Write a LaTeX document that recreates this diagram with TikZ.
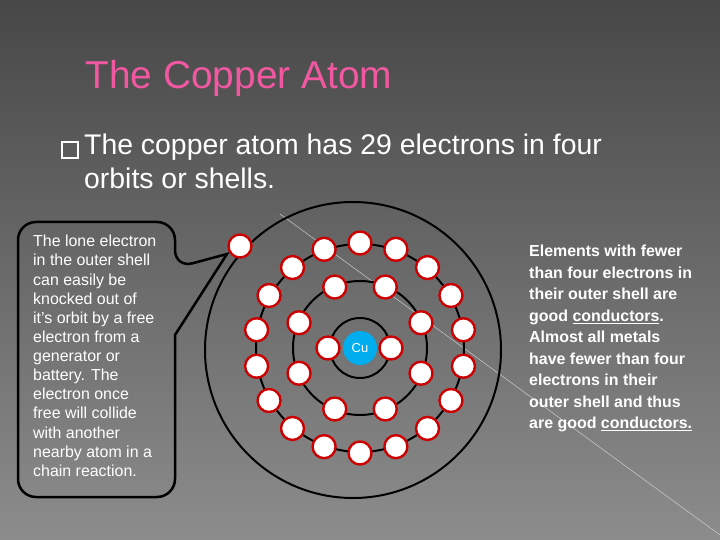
\documentclass[tikz,border=0pt]{standalone}
\usepackage{fontspec}
\setmainfont{Liberation Sans}
\usetikzlibrary{calc}
\begin{document}
\begin{tikzpicture}[x=1bp,y=-1bp,
  elec/.style={circle,draw=red!80!black,fill=white,line width=2.4bp,minimum size=23bp,inner sep=0pt},
  orbit/.style={draw=black,line width=2bp},
  txt/.style={text=white,align=left,inner sep=0pt,anchor=north west}]
\path[use as bounding box] (0,0) rectangle (720,540);
\shade[top color=black!72,bottom color=black!45] (0,0) rectangle (720,540);
\draw[white!60!gray,line width=0.5bp] (280,214) -- (720,535);
\node[anchor=west,text=magenta!55!pink,font=\fontsize{39}{44}\selectfont] (title) at (82,78) {The Copper Atom};
\draw[white,line width=1.2bp] (62,142) rectangle (78,158);
\node[txt,font=\fontsize{28.5}{34}\selectfont] (bullet) at (84,134) {The copper atom has 29 electrons in four\\orbits or shells.};
% callout
\draw[black,line width=2.5bp,rounded corners=18bp] (18,222) -- (175,222) -- (175,268) [sharp corners] -- (227,254) -- (175,335) [rounded corners=18bp] -- (175,497) -- (18,497) -- cycle;
\node[txt,font=\fontsize{16}{19.2}\selectfont] (callout) at (33,235) {The lone electron\\in the outer shell\\can easily be\\knocked out of\\it's orbit by a free\\electron from a\\generator or\\battery. The\\electron once\\free will collide\\with another\\nearby atom in a\\chain reaction.};
% atom
\coordinate (c) at (360,348);
\draw[orbit] (353,350) circle[radius=148];
\draw[orbit] (c) circle[radius=104];
\draw[orbit] (c) circle[radius=67];
\draw[orbit] (c) circle[radius=30];
\node[circle,fill=cyan,minimum size=34bp,inner sep=0pt,text=white,font=\fontsize{13}{13}\selectfont] (cu) at (c) {Cu};
\node[elec] (e1a) at (328,348) {};
\node[elec] (e1b) at (391,348) {};
\foreach \a [count=\i] in {22.5,67.5,...,337.5}{\node[elec] (e2\i) at ($(c)+(\a:66)$) {};}
\foreach \a [count=\i] in {90,110,...,430}{\node[elec] (e3\i) at ($(c)+(\a:105)$) {};}
\node[elec] (e4) at (240,246) {};
\node[txt,font=\bfseries\fontsize{16}{21.6}\selectfont] (right) at (529,245) {Elements with fewer\\than four electrons in\\their outer shell are\\good \underline{conductors}.\\Almost all metals\\have fewer than four\\electrons in their\\outer shell and thus\\are good \underline{conductors.}};
\end{tikzpicture}
\end{document}
